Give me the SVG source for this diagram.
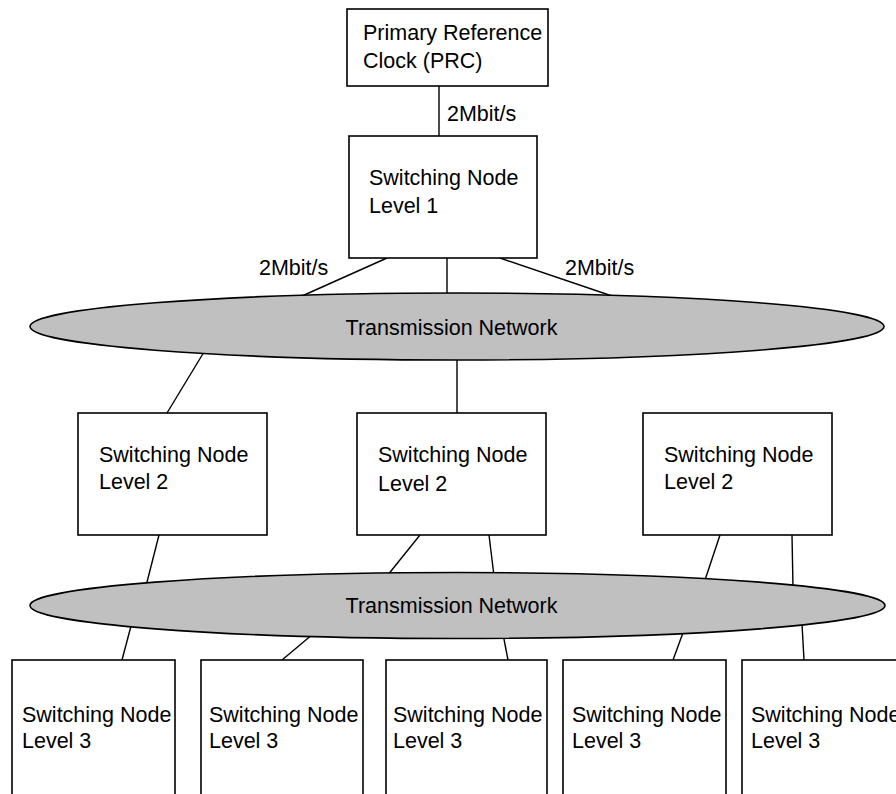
<svg xmlns="http://www.w3.org/2000/svg" width="896" height="794" viewBox="0 0 896 794">
  <style>
    .box { fill: #ffffff; stroke: #000000; stroke-width: 1.6; }
    .net { fill: #c0c0c0; stroke: #000000; stroke-width: 1.6; }
    .link { stroke: #000000; stroke-width: 1.4; fill: none; }
    text { font-family: "Liberation Sans", Arial, sans-serif; font-size: 21.5px; fill: #000000; }
  </style>
  <rect width="896" height="794" fill="#ffffff"/>

  <!-- connectors (drawn first so the network ellipses cover their ends) -->
  <g id="connectors">
    <line class="link" x1="439" y1="86" x2="439" y2="136"/>
    <line class="link" x1="387" y1="258" x2="302" y2="296"/>
    <line class="link" x1="447" y1="258" x2="447" y2="296"/>
    <line class="link" x1="500" y1="258" x2="612" y2="296"/>
    <line class="link" x1="204" y1="352" x2="167" y2="413"/>
    <line class="link" x1="457" y1="355" x2="457" y2="413"/>
    <line class="link" x1="159" y1="535" x2="146" y2="586"/>
    <line class="link" x1="420" y1="535" x2="387" y2="576"/>
    <line class="link" x1="489" y1="535" x2="494" y2="576"/>
    <line class="link" x1="720" y1="535" x2="705" y2="580"/>
    <line class="link" x1="792" y1="535" x2="793" y2="588"/>
    <line class="link" x1="131" y1="626" x2="122" y2="660"/>
    <line class="link" x1="313" y1="634" x2="282" y2="660"/>
    <line class="link" x1="503" y1="634" x2="508" y2="660"/>
    <line class="link" x1="684" y1="630" x2="673" y2="660"/>
    <line class="link" x1="802" y1="624" x2="804" y2="660"/>
    <text x="447" y="121">2Mbit/s</text>
    <text x="259" y="275">2Mbit/s</text>
    <text x="565" y="275">2Mbit/s</text>
  </g>

  <g id="prc">
    <rect class="box" x="347" y="9" width="201" height="77"/>
    <text x="363" y="40">Primary Reference</text>
    <text x="363" y="68">Clock (PRC)</text>
  </g>

  <g id="node-l1">
    <rect class="box" x="349" y="136" width="188" height="122"/>
    <text x="369" y="185">Switching Node</text>
    <text x="369" y="213">Level 1</text>
  </g>

  <g id="network-1">
    <ellipse class="net" cx="457" cy="326.5" rx="427" ry="33.5"/>
    <text x="451.5" y="335" text-anchor="middle">Transmission Network</text>
  </g>

  <g id="node-l2-a">
    <rect class="box" x="78" y="413" width="189" height="122"/>
    <text x="99" y="462">Switching Node</text>
    <text x="99" y="489">Level 2</text>
  </g>
  <g id="node-l2-b">
    <rect class="box" x="357" y="413" width="189" height="122"/>
    <text x="378" y="462">Switching Node</text>
    <text x="378" y="491">Level 2</text>
  </g>
  <g id="node-l2-c">
    <rect class="box" x="643" y="413" width="189" height="122"/>
    <text x="664" y="462">Switching Node</text>
    <text x="664" y="489">Level 2</text>
  </g>

  <g id="network-2">
    <ellipse class="net" cx="457.5" cy="605.5" rx="427.5" ry="33"/>
    <text x="451.5" y="613" text-anchor="middle">Transmission Network</text>
  </g>

  <g id="node-l3-a">
    <rect class="box" x="12" y="660" width="163" height="150"/>
    <text x="22" y="722">Switching Node</text>
    <text x="22" y="748">Level 3</text>
  </g>
  <g id="node-l3-b">
    <rect class="box" x="201" y="660" width="162" height="150"/>
    <text x="209" y="722">Switching Node</text>
    <text x="209" y="748">Level 3</text>
  </g>
  <g id="node-l3-c">
    <rect class="box" x="386" y="660" width="161" height="150"/>
    <text x="393" y="722">Switching Node</text>
    <text x="393" y="748">Level 3</text>
  </g>
  <g id="node-l3-d">
    <rect class="box" x="563" y="660" width="163" height="150"/>
    <text x="572" y="722">Switching Node</text>
    <text x="572" y="748">Level 3</text>
  </g>
  <g id="node-l3-e">
    <rect class="box" x="742" y="660" width="163" height="150"/>
    <text x="751" y="722">Switching Node</text>
    <text x="751" y="748">Level 3</text>
  </g>
</svg>
